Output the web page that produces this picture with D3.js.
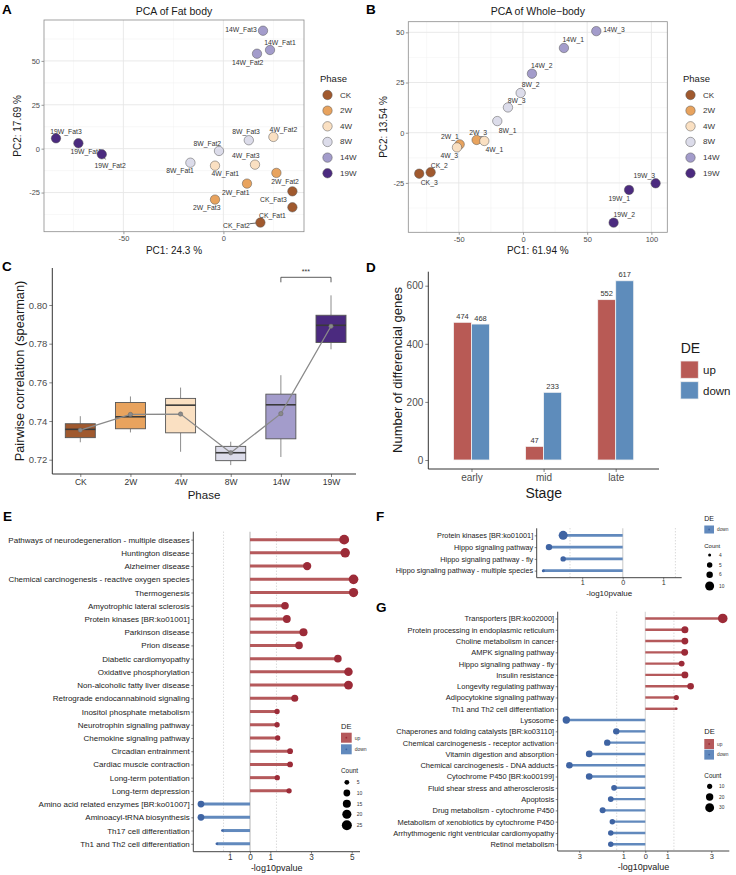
<!DOCTYPE html>
<html>
<head>
<meta charset="utf-8">
<script src="https://cdn.jsdelivr.net/npm/d3@7"></script>
<style>
body { margin: 0; background: #fff; }
svg { font-family: "Liberation Sans", Arial, Helvetica, sans-serif; }
</style>
</head>
<body>
<svg id="fig" width="736" height="875"></svg>
<script>
// ---------- data ----------
var phases = ["CK", "2W", "4W", "8W", "14W", "19W"];
var phaseColors = ["#a0592e", "#e8a35e", "#fae0c2", "#dcdcea", "#a39ccb", "#4b2a7f"];

// A: PCA fat body
var fatNames = ["CK_Fat1","CK_Fat2","CK_Fat3","2W_Fat1","2W_Fat2","2W_Fat3","4W_Fat1","4W_Fat2","4W_Fat3",
                "8W_Fat1","8W_Fat2","8W_Fat3","14W_Fat1","14W_Fat2","14W_Fat3","19W_Fat1","19W_Fat2","19W_Fat3"];
var fatPhase = ["CK","CK","CK","2W","2W","2W","4W","4W","4W","8W","8W","8W","14W","14W","14W","19W","19W","19W"];
var fatPC1 = [34.5, 18.5, 34.5, 11.8, 26.5, -4.2, -4.2, 25, 15.8, -16.5, -2.2, 12.7, 23.3, 16.8, 19.8, -72.5, -60.8, -83.7];
var fatPC2 = [-33.4, -42.1, -24.3, -19.9, -13.8, -29, -9.7, 6.7, -9.1, -8.0, -1.3, 4.8, 56.2, 54.1, 67.2, 3.1, -3.2, 5.9];

// B: PCA whole body
var wbNames = ["CK_2","CK_3","2W_1","2W_3","4W_1","4W_3","8W_1","8W_2","8W_3","14W_1","14W_2","14W_3","19W_1","19W_2","19W_3"];
var wbPhase = ["CK","CK","2W","2W","4W","4W","8W","8W","8W","14W","14W","14W","19W","19W","19W"];
var wbPC1 = [-71.9, -80.8, -49.3, -36.1, -30.1, -51.4, -20, -1.8, -11.7, 31.9, 7.0, 57.1, 82.6, 70.6, 103.3];
var wbPC2 = [-19.7, -20.4, -5.8, -3.6, -4.1, -7.3, 5.8, 19.8, 12.6, 42.2, 29.4, 50.6, -28.5, -44.8, -25.2];

// C: pairwise correlation boxplots
var corMin  = [0.7290, 0.7341, 0.7241, 0.7172, 0.7214, 0.7771];
var corQ1   = [0.7314, 0.7360, 0.7339, 0.7195, 0.7308, 0.7806];
var corMed  = [0.7357, 0.7422, 0.7482, 0.7236, 0.7484, 0.7895];
var corQ3   = [0.7386, 0.7496, 0.7517, 0.7269, 0.7539, 0.7947];
var corMax  = [0.7425, 0.7527, 0.7573, 0.7293, 0.7637, 0.8050];
var corMean = [0.7353, 0.7434, 0.7436, 0.7236, 0.7438, 0.7890];

// D: number of DE genes
var stages = ["early", "mid", "late"];
var deTypes = ["up", "down"];
var deColors = ["#b85a55", "#5e8cbb"];
var upCounts = [474, 47, 552];
var downCounts = [468, 233, 617];

// E/F/G: KEGG lollipops (negative = down)
var eTerms = ["Pathways of neurodegeneration - multiple diseases","Huntington disease","Alzheimer disease",
  "Chemical carcinogenesis - reactive oxygen species","Thermogenesis","Amyotrophic lateral sclerosis",
  "Protein kinases [BR:ko01001]","Parkinson disease","Prion disease","Diabetic cardiomyopathy",
  "Oxidative phosphorylation","Non-alcoholic fatty liver disease","Retrograde endocannabinoid signaling",
  "Inositol phosphate metabolism","Neurotrophin signaling pathway","Chemokine signaling pathway",
  "Circadian entrainment","Cardiac muscle contraction","Long-term potentiation","Long-term depression",
  "Amino acid related enzymes [BR:ko01007]","Aminoacyl-tRNA biosynthesis","Th17 cell differentiation",
  "Th1 and Th2 cell differentiation"];
var eLogP = [4.63, 4.68, 2.81, 5.09, 5.09, 1.72, 1.81, 2.63, 2.41, 4.32, 4.84, 4.84, 2.2,
  1.33, 1.33, 1.36, 1.97, 1.97, 1.34, 1.92, -2.41, -2.41, -1.36, -1.63];
var eCount = [24, 22, 16, 23, 21, 13, 14, 15, 13, 13, 17, 19, 11, 6, 6, 6, 7, 7, 6, 6, 10, 10, 3, 3];
var eSizeBreaks = [5, 10, 15, 20, 25];

var fTerms = ["Protein kinases [BR:ko01001]","Hippo signaling pathway","Hippo signaling pathway - fly",
  "Hippo signaling pathway - multiple species"];
var fLogP = [-1.47, -1.82, -1.47, -1.96];
var fCount = [10, 6, 5, 4];
var fSizeBreaks = [4, 5, 6, 10];

var gTerms = ["Transporters [BR:ko02000]","Protein processing in endoplasmic reticulum","Choline metabolism in cancer",
  "AMPK signaling pathway","Hippo signaling pathway - fly","Insulin resistance","Longevity regulating pathway",
  "Adipocytokine signaling pathway","Th1 and Th2 cell differentiation","Lysosome",
  "Chaperones and folding catalysts [BR:ko03110]","Chemical carcinogenesis - receptor activation",
  "Vitamin digestion and absorption","Chemical carcinogenesis - DNA adducts","Cytochrome P450 [BR:ko00199]",
  "Fluid shear stress and atherosclerosis","Apoptosis","Drug metabolism - cytochrome P450",
  "Metabolism of xenobiotics by cytochrome P450","Arrhythmogenic right ventricular cardiomyopathy","Retinol metabolism"];
var gLogP = [3.52, 1.80, 1.80, 1.79, 1.65, 1.80, 2.06, 1.41, 1.41, -3.59, -1.32, -1.73, -2.55, -3.45, -2.55,
  -1.42, -1.57, -1.94, -1.5, -1.57, -1.57];
var gCount = [36, 18, 17, 17, 13, 17, 16, 10, 6, 20, 15, 15, 16, 16, 16, 12, 12, 13, 11, 11, 11];
var gSizeBreaks = [10, 20, 30];

// label nudges for the PCA points (px, relative to the point)
var fatNudge = {
  "CK_Fat1": [-20, 7.7], "CK_Fat2": [-24, 2.6, 1], "CK_Fat3": [-19, 8.4],
  "2W_Fat1": [-11.3, 8.6], "2W_Fat2": [8.7, 8.7], "2W_Fat3": [-8.3, 8],
  "4W_Fat1": [10.3, 8], "4W_Fat2": [10, -7.3], "4W_Fat3": [-9.3, -8.7],
  "8W_Fat1": [-10.3, 8], "8W_Fat2": [-11.7, -7], "8W_Fat3": [-2.7, -8.3],
  "14W_Fat1": [10, -7.3], "14W_Fat2": [-9.3, 9], "14W_Fat3": [-22, -1.7],
  "19W_Fat1": [7.7, 8.4], "19W_Fat2": [8.3, 11.4, 1], "19W_Fat3": [10, -7.3]
};
var wbNudge = {
  "CK_2": [8.6, -6.6], "CK_3": [10, 9], "2W_1": [-9.7, -8.3], "2W_3": [1.6, -7.3],
  "4W_1": [10, 9], "4W_3": [-7.7, 7.7], "8W_1": [10.4, 9], "8W_2": [10, -8], "8W_3": [8.7, -7.3],
  "14W_1": [9.3, -8.7], "14W_2": [9.7, -7.7], "14W_3": [17.7, -2],
  "19W_1": [-9.7, 8.3], "19W_2": [10.6, -7.7], "19W_3": [-11.4, -8]
};

var svg = d3.select("#fig");
var phaseColor = d3.scaleOrdinal().domain(phases).range(phaseColors);
var hyph = function(d) { return String(d); };

function txt(g, x, y, s, size, opts) {
  opts = opts || {};
  var t = g.append("text").attr("x", x).attr("y", y).text(s)
    .attr("font-size", size)
    .attr("fill", opts.fill || "#1a1a1a")
    .attr("text-anchor", opts.anchor || "start")
    .attr("dominant-baseline", opts.base || "central");
  if (opts.bold) t.attr("font-weight", "bold");
  if (opts.rotate) t.attr("transform", "rotate(-90," + x + "," + y + ")");
  return t;
}

function styleAxis(g, size, color, tickColor) {
  g.select(".domain").remove();
  g.selectAll(".tick line").attr("stroke", tickColor || "#333").attr("stroke-width", 0.6);
  g.selectAll(".tick text").attr("font-size", size).attr("fill", color).attr("font-family", null);
}

// panel letters
[["A", 2, 14], ["B", 366, 14], ["C", 2, 271], ["D", 366, 271.5], ["E", 3, 521], ["F", 376, 520.7], ["G", 376, 611.7]]
  .forEach(function(l) { txt(svg, l[1], l[2], l[0], 13.5, {bold: true, base: "auto", fill: "#000"}); });

// ---------- PCA panels ----------
function pcaPanel(o) {
  var g = svg.append("g");
  var x = d3.scaleLinear().domain(o.xDom).range([o.left, o.right]);
  var y = d3.scaleLinear().domain(o.yDom).range([o.bottom, o.top]);

  o.xMinor.forEach(function(v) {
    g.append("line").attr("x1", x(v)).attr("x2", x(v)).attr("y1", o.top).attr("y2", o.bottom)
      .attr("stroke", "#f0f0f0").attr("stroke-width", 0.5);
  });
  o.yMinor.forEach(function(v) {
    g.append("line").attr("y1", y(v)).attr("y2", y(v)).attr("x1", o.left).attr("x2", o.right)
      .attr("stroke", "#f0f0f0").attr("stroke-width", 0.5);
  });
  o.xTicks.forEach(function(v) {
    g.append("line").attr("x1", x(v)).attr("x2", x(v)).attr("y1", o.top).attr("y2", o.bottom)
      .attr("stroke", "#e6e6e6").attr("stroke-width", 0.9);
  });
  o.yTicks.forEach(function(v) {
    g.append("line").attr("y1", y(v)).attr("y2", y(v)).attr("x1", o.left).attr("x2", o.right)
      .attr("stroke", "#e6e6e6").attr("stroke-width", 0.9);
  });

  var xa = g.append("g").attr("transform", "translate(0," + o.bottom + ")")
    .call(d3.axisBottom(x).tickValues(o.xTicks).tickFormat(hyph).tickSize(2.5).tickPadding(1.5));
  styleAxis(xa, 7.5, "#4d4d4d", "#555");
  var ya = g.append("g").attr("transform", "translate(" + o.left + ",0)")
    .call(d3.axisLeft(y).tickValues(o.yTicks).tickFormat(hyph).tickSize(2.5).tickPadding(1.5));
  styleAxis(ya, 7.5, "#4d4d4d", "#555");

  g.append("rect").attr("x", o.left).attr("y", o.top)
    .attr("width", o.right - o.left).attr("height", o.bottom - o.top)
    .attr("fill", "none").attr("stroke", "#8c8c8c").attr("stroke-width", 0.8);

  var pts = o.names.map(function(n, i) {
    return {name: n, phase: o.phase[i], px: x(o.pc1[i]), py: y(o.pc2[i]), nudge: o.nudge[n]};
  });

  // labels first, points drawn over them
  pts.forEach(function(p) {
    var lx = p.px + p.nudge[0], ly = p.py + p.nudge[1];
    if (p.nudge[2]) {
      g.append("line").attr("x1", p.px).attr("y1", p.py)
        .attr("x2", p.px + p.nudge[0] * 0.45).attr("y2", p.py + p.nudge[1] * 0.45)
        .attr("stroke", "#222").attr("stroke-width", 0.7);
    }
    txt(g, lx, ly, p.name, 6.8, {anchor: "middle", fill: "#333"});
  });

  g.selectAll("circle.pt").data(pts).enter().append("circle")
    .attr("class", "pt")
    .attr("cx", function(d) { return d.px; })
    .attr("cy", function(d) { return d.py; })
    .attr("r", 4.7)
    .attr("fill", function(d) { return phaseColor(d.phase); })
    .attr("stroke", "#555").attr("stroke-width", 0.5);

  txt(g, (o.left + o.right) / 2, 11, o.title, 10.5, {anchor: "middle"});
  txt(g, (o.left + o.right) / 2, 250, o.xLab, 10, {anchor: "middle"});
  txt(g, o.yLabX, (o.top + o.bottom) / 2, o.yLab, 10, {anchor: "middle", rotate: true});

  // legend
  txt(g, o.legX, 78, "Phase", 9.5);
  phases.forEach(function(ph, i) {
    var ly = 95 + i * 15.65;
    g.append("circle").attr("cx", o.legX + 7.5).attr("cy", ly).attr("r", 4.7)
      .attr("fill", phaseColor(ph)).attr("stroke", "#555").attr("stroke-width", 0.5);
    txt(g, o.legX + 20, ly, ph, 8, {fill: "#333"});
  });
}

pcaPanel({
  names: fatNames, phase: fatPhase, pc1: fatPC1, pc2: fatPC2, nudge: fatNudge,
  xDom: [-89.7, 40.3], yDom: [-47.3, 73.3], left: 44, right: 304, top: 20, bottom: 231.7,
  xTicks: [-50, 0], xMinor: [-75, -25, 25], yTicks: [-25, 0, 25, 50], yMinor: [-37.5, -12.5, 12.5, 37.5, 62.5],
  title: "PCA of Fat body", xLab: "PC1: 24.3 %", yLab: "PC2: 17.69 %", yLabX: 18, legX: 320
});
pcaPanel({
  names: wbNames, phase: wbPhase, pc1: wbPC1, pc2: wbPC2, nudge: wbNudge,
  xDom: [-89.3, 112.4], yDom: [-49.6, 55.3], left: 408.3, right: 667.3, top: 21.7, bottom: 232.3,
  xTicks: [-50, 0, 50, 100], xMinor: [-75, -25, 25, 75], yTicks: [-25, 0, 25, 50], yMinor: [-37.5, -12.5, 12.5, 37.5],
  title: "PCA of Whole\u2212body", xLab: "PC1: 61.94 %", yLab: "PC2: 13.54 %", yLabX: 383, legX: 683
});

// ---------- C: boxplots ----------
(function() {
  var g = svg.append("g");
  var x = d3.scalePoint().domain(phases).range([80.3, 331]);
  var y = d3.scaleLinear().domain([0.72, 0.80]).range([459.7, 305]);
  var bw = 30;

  g.append("line").attr("x1", 52.3).attr("x2", 52.3).attr("y1", 268).attr("y2", 474).attr("stroke", "#333").attr("stroke-width", 1);
  g.append("line").attr("x1", 52.3).attr("x2", 356).attr("y1", 474).attr("y2", 474).attr("stroke", "#333").attr("stroke-width", 1);

  var ya = g.append("g").attr("transform", "translate(52.3,0)")
    .call(d3.axisLeft(y).tickValues([0.72, 0.74, 0.76, 0.78, 0.80]).tickFormat(d3.format(".2f")).tickSize(3).tickPadding(2));
  styleAxis(ya, 9.5, "#4d4d4d");
  var xa = g.append("g").attr("transform", "translate(0,474)")
    .call(d3.axisBottom(x).tickSize(3).tickPadding(2));
  styleAxis(xa, 8.5, "#333");

  phases.forEach(function(ph, i) {
    var cx = x(ph);
    g.append("line").attr("x1", cx).attr("x2", cx).attr("y1", y(corMax[i])).attr("y2", y(corQ3[i]))
      .attr("stroke", "#808080").attr("stroke-width", 0.9);
    g.append("line").attr("x1", cx).attr("x2", cx).attr("y1", y(corQ1[i])).attr("y2", y(corMin[i]))
      .attr("stroke", "#808080").attr("stroke-width", 0.9);
    g.append("rect").attr("x", cx - bw / 2).attr("width", bw)
      .attr("y", y(corQ3[i])).attr("height", y(corQ1[i]) - y(corQ3[i]))
      .attr("fill", phaseColors[i]).attr("stroke", "#555").attr("stroke-width", 0.9);
    g.append("line").attr("x1", cx - bw / 2).attr("x2", cx + bw / 2).attr("y1", y(corMed[i])).attr("y2", y(corMed[i]))
      .attr("stroke", "#3a3a3a").attr("stroke-width", 1.6);
  });

  g.append("path").datum(phases)
    .attr("d", d3.line().x(function(d) { return x(d); }).y(function(d, i) { return y(corMean[i]); }))
    .attr("fill", "none").attr("stroke", "#8a8a8a").attr("stroke-width", 1.3);
  g.selectAll("circle.mean").data(phases).enter().append("circle")
    .attr("cx", function(d) { return x(d); })
    .attr("cy", function(d, i) { return y(corMean[i]); })
    .attr("r", 2.2).attr("fill", "#8a8a8a").attr("stroke", "#666").attr("stroke-width", 0.5);

  // significance bracket 14W vs 19W
  var x1 = x("14W"), x2 = x("19W");
  g.append("path").attr("d", "M" + x1 + ",282.3V277.3H" + x2 + "V282.3")
    .attr("fill", "none").attr("stroke", "#333").attr("stroke-width", 0.8);
  txt(g, (x1 + x2) / 2, 271, "***", 7, {anchor: "middle", fill: "#333"});

  txt(g, 19.3, 371, "Pairwise correlation (spearman)", 12.8, {anchor: "middle", rotate: true});
  txt(g, 204, 495, "Phase", 11.5, {anchor: "middle"});
})();

// ---------- D: grouped bars ----------
(function() {
  var g = svg.append("g");
  var x = d3.scalePoint().domain(stages).range([471.5, 615.7]);
  var xi = d3.scaleBand().domain(deTypes).range([-18, 18]);
  var y = d3.scaleLinear().domain([0, 600]).range([460, 285.7]);
  var deColor = d3.scaleOrdinal().domain(deTypes).range(deColors);

  g.append("line").attr("x1", 428.3).attr("x2", 428.3).attr("y1", 271.7).attr("y2", 469).attr("stroke", "#333");
  g.append("line").attr("x1", 428.3).attr("x2", 659).attr("y1", 469).attr("y2", 469).attr("stroke", "#333");
  var ya = g.append("g").attr("transform", "translate(428.3,0)")
    .call(d3.axisLeft(y).tickValues([0, 200, 400, 600]).tickSize(3).tickPadding(2));
  styleAxis(ya, 10, "#4d4d4d");
  var xa = g.append("g").attr("transform", "translate(0,469)")
    .call(d3.axisBottom(x).tickSize(3).tickPadding(2));
  styleAxis(xa, 10, "#4d4d4d");

  var rows = [];
  stages.forEach(function(s, i) {
    rows.push({stage: s, de: "up", n: upCounts[i]});
    rows.push({stage: s, de: "down", n: downCounts[i]});
  });
  g.selectAll("rect.bar").data(rows).enter().append("rect")
    .attr("x", function(d) { return x(d.stage) + xi(d.de); })
    .attr("width", xi.bandwidth())
    .attr("y", function(d) { return y(d.n); })
    .attr("height", function(d) { return y(0) - y(d.n); })
    .attr("fill", function(d) { return deColor(d.de); })
    .attr("stroke", "#f4f4f4").attr("stroke-width", 0.8);
  g.selectAll("text.val").data(rows).enter().append("text")
    .attr("x", function(d) { return x(d.stage) + xi(d.de) + xi.bandwidth() / 2; })
    .attr("y", function(d) { return y(d.n) - 3.5; })
    .attr("text-anchor", "middle").attr("font-size", 7.5).attr("fill", "#333")
    .text(function(d) { return d.n; });

  txt(g, 397.3, 370, "Number of differencial genes", 13, {anchor: "middle", rotate: true});
  txt(g, 543.7, 493, "Stage", 14, {anchor: "middle"});

  txt(g, 680.7, 348, "DE", 14);
  deTypes.forEach(function(d, i) {
    g.append("rect").attr("x", 680.7).attr("y", 361 + i * 20.7).attr("width", 17.6).attr("height", 17.3)
      .attr("fill", deColor(d)).attr("stroke", "#f0f0f0").attr("stroke-width", 0.8);
    txt(g, 703, 370 + i * 20.7, d, 11.5);
  });
})();

// ---------- E/F/G: lollipops ----------
var lineCol = {up: "#b5595b", down: "#6189bd"};
var dotCol = {up: "#9c2b38", down: "#3f64a3"};

function lollipop(o) {
  var g = svg.append("g");
  if (o.clip) {
    g.append("clipPath").attr("id", o.clip).append("rect")
      .attr("x", 0).attr("y", 470).attr("width", 368).attr("height", 405);
    g.attr("clip-path", "url(#" + o.clip + ")");
  }
  var x = d3.scaleLinear().domain([(o.left - o.x0) / o.ppu, (o.right - o.x0) / o.ppu]).range([o.left, o.right]);
  var y = d3.scalePoint().domain(o.terms).range([o.top, o.bottom]).padding(0.6);
  var r = function(v) {
    var t = (v - o.sizeDom[0]) / (o.sizeDom[1] - o.sizeDom[0]);
    return o.sizeRange[0] + Math.sqrt(Math.max(0, t)) * (o.sizeRange[1] - o.sizeRange[0]);
  };
  var thr = -Math.log10(0.05);

  g.append("line").attr("x1", x(0)).attr("x2", x(0)).attr("y1", o.top).attr("y2", o.bottom)
    .attr("stroke", "#d9d9d9").attr("stroke-width", o.zeroW);
  [-thr, thr].forEach(function(v) {
    g.append("line").attr("x1", x(v)).attr("x2", x(v)).attr("y1", o.top).attr("y2", o.bottom)
      .attr("stroke", "#a6a6a6").attr("stroke-width", 0.6).attr("stroke-dasharray", "1,2");
  });

  var rows = o.terms.map(function(t, i) {
    return {term: t, v: o.vals[i], n: o.counts[i], de: o.vals[i] < 0 ? "down" : "up"};
  });
  g.selectAll("line.stem").data(rows).enter().append("line")
    .attr("x1", x(0)).attr("x2", function(d) { return x(d.v); })
    .attr("y1", function(d) { return y(d.term); }).attr("y2", function(d) { return y(d.term); })
    .attr("stroke", function(d) { return lineCol[d.de]; }).attr("stroke-width", o.lineW);
  g.selectAll("circle.dot").data(rows).enter().append("circle")
    .attr("cx", function(d) { return x(d.v); })
    .attr("cy", function(d) { return y(d.term); })
    .attr("r", function(d) { return r(d.n); })
    .attr("fill", function(d) { return dotCol[d.de]; });

  g.append("line").attr("x1", o.left).attr("x2", o.left).attr("y1", o.top).attr("y2", o.bottom).attr("stroke", "#444");
  g.append("line").attr("x1", o.left).attr("x2", o.right).attr("y1", o.bottom).attr("y2", o.bottom).attr("stroke", "#444");
  var ya = g.append("g").attr("transform", "translate(" + o.left + ",0)")
    .call(d3.axisLeft(y).tickSize(2).tickPadding(1.5));
  styleAxis(ya, o.font, "#222");
  var xa = g.append("g").attr("transform", "translate(0," + o.bottom + ")")
    .call(d3.axisBottom(x).tickValues(o.ticks).tickFormat(function(d) { return Math.abs(d); }).tickSize(2).tickPadding(0.5));
  styleAxis(xa, o.tickFont, "#333");
  txt(g, (o.left + o.right) / 2, o.xLabY, "-log10pvalue", o.labFont, {anchor: "middle"});

  // legends
  var L = o.leg;
  txt(g, L.x, L.deY, "DE", L.titleFont);
  L.types.forEach(function(d, i) {
    var ky = L.keyY + i * L.keyStep;
    g.append("rect").attr("x", L.x).attr("y", ky).attr("width", L.keyW).attr("height", L.keyH)
      .attr("fill", lineCol[d]);
    g.append("circle").attr("cx", L.x + L.keyW / 2).attr("cy", ky + L.keyH / 2).attr("r", 0.9).attr("fill", dotCol[d]);
    txt(g, L.x + L.keyW + 3, ky + L.keyH / 2, d, L.smallFont, {fill: "#333"});
  });
  txt(g, L.x, L.countY, "Count", L.titleFont * 0.85);
  o.breaks.forEach(function(b, i) {
    g.append("circle").attr("cx", L.x + L.keyW / 2 + 0.5).attr("cy", L.sizeY[i]).attr("r", r(b)).attr("fill", "#000");
    txt(g, L.x + L.keyW + 5, L.sizeY[i], b, L.smallFont, {fill: "#333"});
  });
}

lollipop({
  terms: eTerms, vals: eLogP, counts: eCount, breaks: eSizeBreaks, clip: "clipE",
  left: 193.3, right: 360, top: 531.7, bottom: 851.7, x0: 250, ppu: 20.34,
  ticks: [-1, 0, 1, 3, 5], sizeDom: [3, 25], sizeRange: [1.3, 5],
  lineW: 3, zeroW: 2, font: 8, tickFont: 8.2, labFont: 9, xLabY: 868,
  leg: {x: 341, deY: 726, keyY: 732.7, keyStep: 11.6, keyW: 10.7, keyH: 10, types: ["up", "down"],
        titleFont: 7.5, smallFont: 5, countY: 770.7, sizeY: [782.3, 793, 803.7, 814.3, 825.3]}
});
lollipop({
  terms: fTerms, vals: fLogP, counts: fCount, breaks: fSizeBreaks,
  left: 536.7, right: 681.7, top: 528.3, bottom: 577.7, x0: 622.7, ppu: 40.5,
  ticks: [-1, 0, 1], sizeDom: [4, 10], sizeRange: [1.5, 4.5],
  lineW: 2.6, zeroW: 1.5, font: 7.3, tickFont: 7.2, labFont: 8, xLabY: 593,
  leg: {x: 704.3, deY: 518, keyY: 525.5, keyStep: 10, keyW: 9.7, keyH: 8, types: ["down"],
        titleFont: 7, smallFont: 4.8, countY: 546, sizeY: [555, 565, 574.7, 586]}
});
lollipop({
  terms: gTerms, vals: gLogP, counts: gCount, breaks: gSizeBreaks,
  left: 557.7, right: 729.3, top: 611.7, bottom: 851, x0: 645.3, ppu: 22,
  ticks: [-3, -1, 0, 1, 3], sizeDom: [6, 36], sizeRange: [1.3, 4.8],
  lineW: 2.4, zeroW: 1.2, font: 7.5, tickFont: 7.5, labFont: 9, xLabY: 867,
  leg: {x: 704.3, deY: 731, keyY: 739, keyStep: 10.6, keyW: 9.7, keyH: 10, types: ["up", "down"],
        titleFont: 7.5, smallFont: 4.8, countY: 775, sizeY: [786.3, 797, 807.7]}
});
</script>
</body>
</html>
